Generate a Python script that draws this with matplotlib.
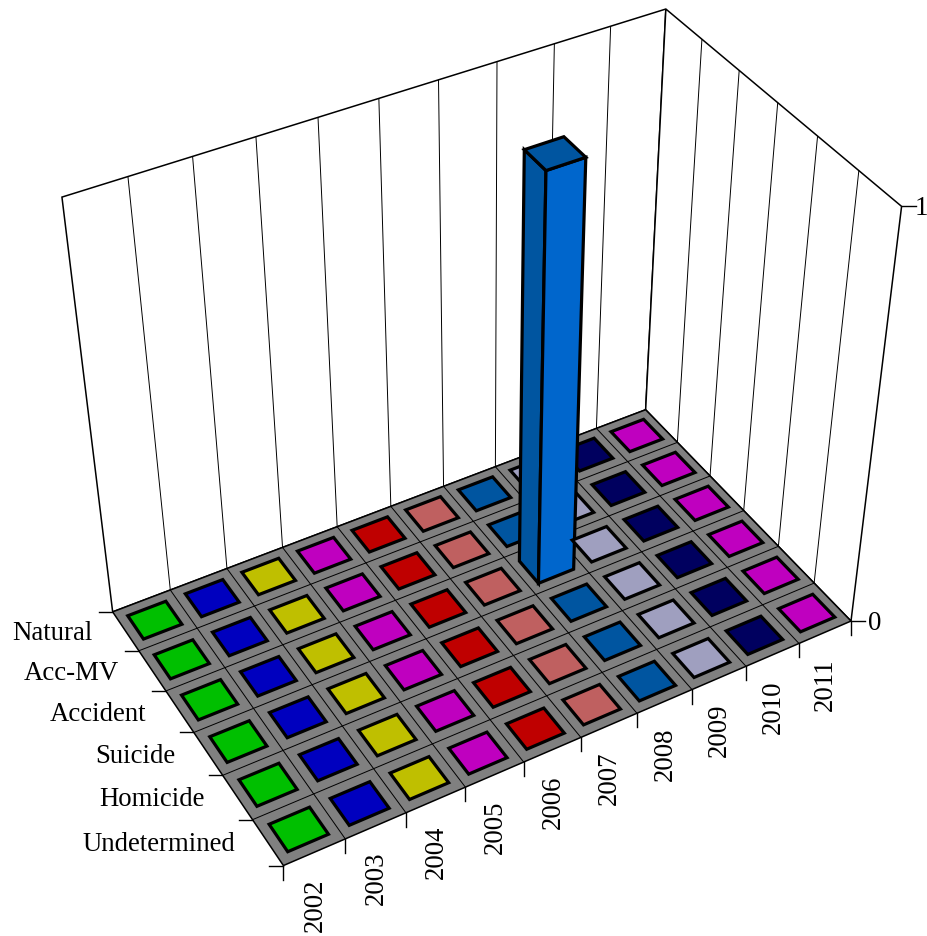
import matplotlib
matplotlib.use('Agg')
import matplotlib.pyplot as plt
from matplotlib.patches import Polygon
import numpy as np

plt.rcParams['font.family'] = ['Liberation Serif', 'DejaVu Serif']

years = ['2002', '2003', '2004', '2005', '2006', '2007', '2008', '2009', '2010', '2011']
causes = ['Natural', 'Acc-MV', 'Accident', 'Suicide', 'Homicide', 'Undetermined']

# one row per cause, everything is zero except accident 2008
natural = [0, 0, 0, 0, 0, 0, 0, 0, 0, 0]
acc_mv = [0, 0, 0, 0, 0, 0, 0, 0, 0, 0]
accident = [0, 0, 0, 0, 0, 0, 1, 0, 0, 0]
suicide = [0, 0, 0, 0, 0, 0, 0, 0, 0, 0]
homicide = [0, 0, 0, 0, 0, 0, 0, 0, 0, 0]
undetermined = [0, 0, 0, 0, 0, 0, 0, 0, 0, 0]
values = [natural, acc_mv, accident, suicide, homicide, undetermined]

top_colors = ['#00bf00', '#0000bf', '#bfbf00', '#bf00bf', '#bf0000',
              '#bf6060', '#0055a0', '#9f9fbf', '#00005f', '#bf00bf']
front_colors = ['#00d800', '#0000d8', '#d8d800', '#d800d8', '#d80000',
                '#d86c6c', '#0066cc', '#b4b4d8', '#00006c', '#d800d8']

nx = len(years)
ny = len(causes)

# box corners in picture pixels, used to fit the perspective camera
world = [(0, 0, 0), (0, ny, 0), (nx, ny, 0), (nx, 0, 0),
         (0, 0, 1), (nx, 0, 1), (nx, ny, 1)]
pixels = [(112.7, 613), (283.3, 866.5), (851, 622), (645.7, 410.7),
          (62, 198), (665.7, 10), (901.7, 207.5)]

A = []
b = []
for (u, v, w), (px, py) in zip(world, pixels):
    A.append([u, v, w, 1, 0, 0, 0, 0, -px * u, -px * v, -px * w])
    b.append(px)
    A.append([0, 0, 0, 0, u, v, w, 1, -py * u, -py * v, -py * w])
    b.append(py)
sol = np.linalg.lstsq(np.array(A, float), np.array(b, float), rcond=None)[0]
cam = np.append(sol, 1).reshape(3, 4)


def proj(u, v, w=0):
    x, y, h = cam @ np.array([u, v, w, 1.0])
    return x / h, y / h


def face(ax, pts, fc, ec='black', lw=1.0, z=1):
    ax.add_patch(Polygon([proj(*p) for p in pts], closed=True, facecolor=fc,
                         edgecolor=ec, linewidth=lw, joinstyle='miter', zorder=z))


def line(ax, p, q, lw=1.0, z=2):
    a = proj(*p)
    c = proj(*q)
    ax.plot([a[0], c[0]], [a[1], c[1]], color='black', lw=lw, zorder=z,
            solid_capstyle='butt')


fig = plt.figure(figsize=(9.28, 9.37), dpi=100)
ax = fig.add_axes([0, 0, 1, 1])
ax.set_xlim(0, 928)
ax.set_ylim(937, 0)
ax.axis('off')

# walls
face(ax, [(0, 0, 0), (nx, 0, 0), (nx, 0, 1), (0, 0, 1)], 'white', lw=1.1)
face(ax, [(nx, 0, 0), (nx, ny, 0), (nx, ny, 1), (nx, 0, 1)], 'white', lw=1.1)
for i in range(1, nx):
    line(ax, (i, 0, 0), (i, 0, 1), lw=0.7)
for j in range(1, ny):
    line(ax, (nx, j, 0), (nx, j, 1), lw=0.7)

# floor
face(ax, [(0, 0, 0), (nx, 0, 0), (nx, ny, 0), (0, ny, 0)], '#808080', lw=1.1, z=3)
for i in range(1, nx):
    line(ax, (i, 0, 0), (i, ny, 0), lw=0.7, z=4)
for j in range(1, ny):
    line(ax, (0, j, 0), (nx, j, 0), lw=0.7, z=4)

# bars, back to front; zero values only show as a flat tile
inset_x = 0.17
inset_y = 0.2
for j in range(ny):
    for i in range(nx):
        h = values[j][i]
        x0, x1 = i + inset_x, i + 1 - inset_x
        y0, y1 = j + inset_y, j + 1 - inset_y
        order = 5 + j * nx + i
        if h > 0:
            face(ax, [(x0, y0, 0), (x0, y1, 0), (x0, y1, h), (x0, y0, h)],
                 top_colors[i], lw=2.3, z=order)
            face(ax, [(x0, y1, 0), (x1, y1, 0), (x1, y1, h), (x0, y1, h)],
                 front_colors[i], lw=2.3, z=order)
        face(ax, [(x0, y0, h), (x1, y0, h), (x1, y1, h), (x0, y1, h)],
             top_colors[i], lw=2.3, z=order)

# ticks
for j in range(ny + 1):
    x, y = proj(0, j)
    ax.plot([x - 14, x], [y, y], color='black', lw=1.0, zorder=2)
for i in range(nx + 1):
    x, y = proj(i, ny)
    ax.plot([x, x], [y, y + 14], color='black', lw=1.0, zorder=2)
for w, name in [(0, '0'), (1, '1')]:
    x, y = proj(nx, ny, w)
    ax.plot([x, x + 14], [y, y], color='black', lw=1.0, zorder=2)
    # the 1 sits right against the picture edge, keep it inside
    ax.text(min(x + 17, 914.5), y + 1, name, fontsize=19.25, ha='left', va='center')

# labels
for j, name in enumerate(causes):
    x, y = proj(0, j + 0.5)
    ax.text(x - 33, y + 1.5, name, fontsize=19.25, ha='right', va='center')
for i, name in enumerate(years):
    x, y = proj(i + 0.5, ny)
    ax.text(x + 0.5, y + 25, name, fontsize=19.25, rotation=90, ha='center', va='top')

fig.savefig('out.png', dpi=100)
plt.close(fig)
